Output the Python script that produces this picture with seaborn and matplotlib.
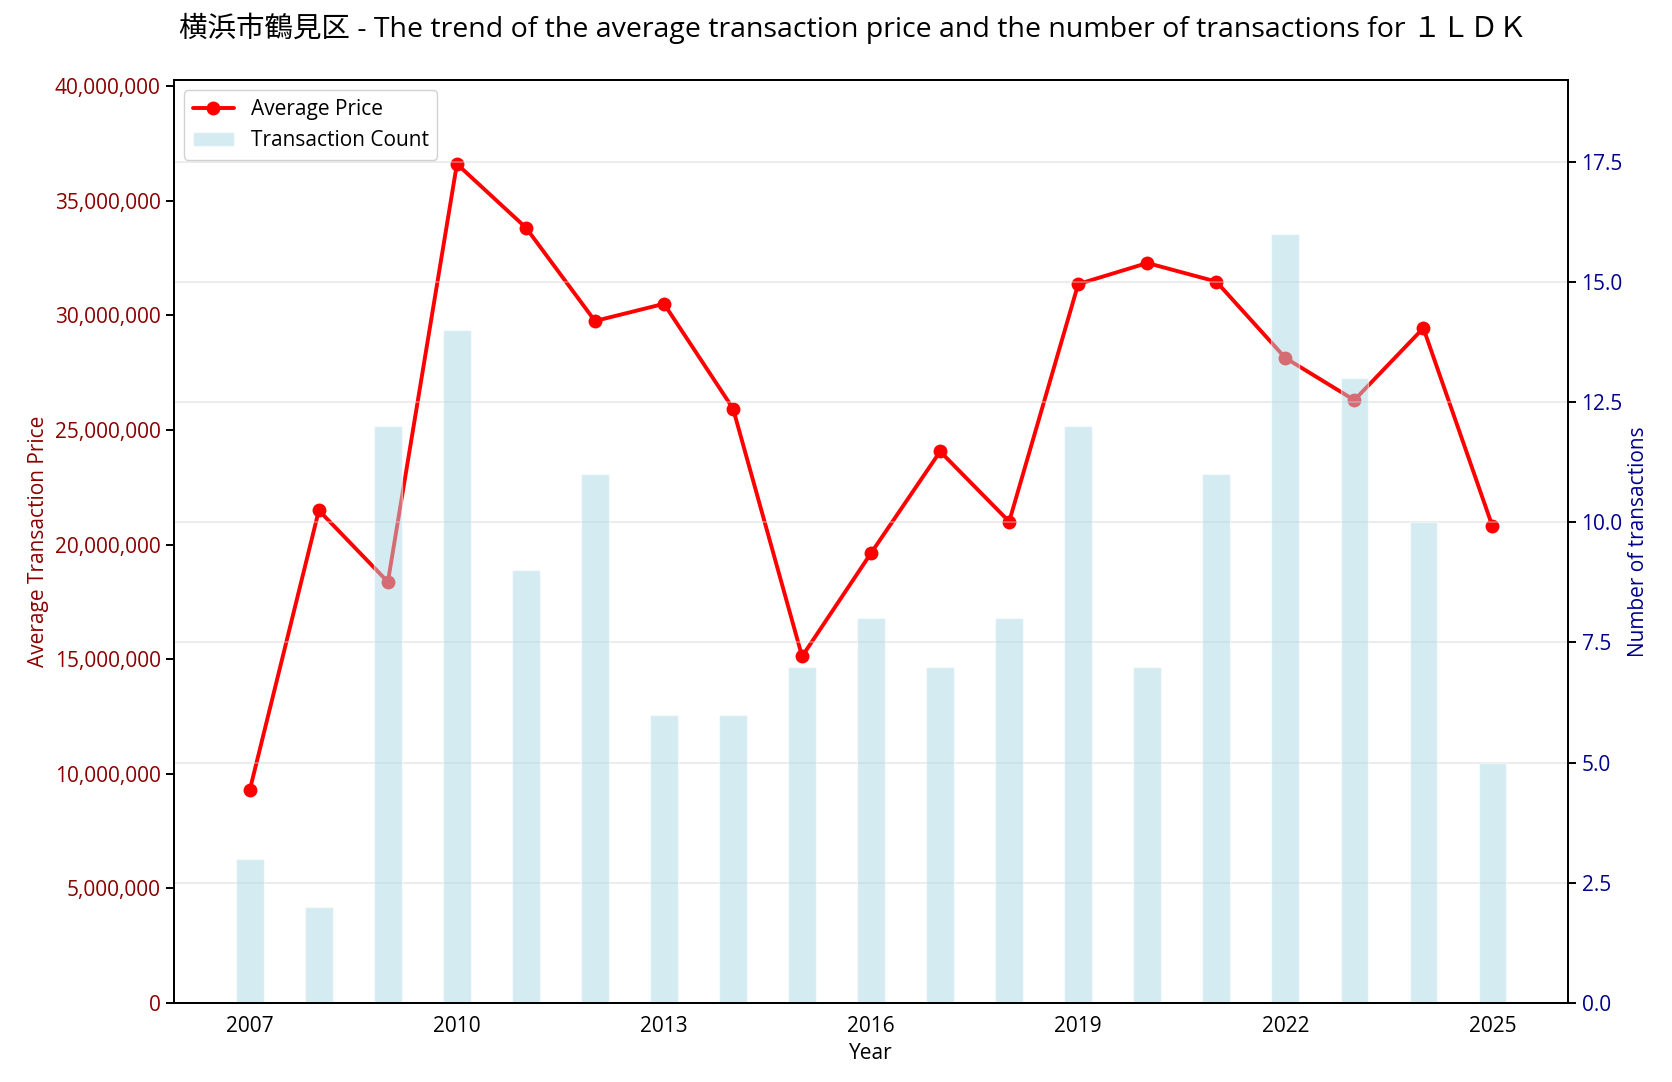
import matplotlib
matplotlib.use("Agg")
import matplotlib.pyplot as plt
import matplotlib.ticker as mticker
import seaborn as sns
import pandas as pd

years = [2007, 2008, 2009, 2010, 2011, 2012, 2013, 2014, 2015, 2016,
         2017, 2018, 2019, 2020, 2021, 2022, 2023, 2024, 2025]
avg_price = [9.30e6, 21.49e6, 18.37e6, 36.6e6, 33.82e6, 29.75e6, 30.5e6, 25.93e6,
             15.12e6, 19.63e6, 24.06e6, 21.0e6, 31.36e6, 32.28e6, 31.47e6,
             28.14e6, 26.3e6, 29.44e6, 20.8e6]
counts = [3, 2, 12, 14, 9, 11, 6, 6, 7, 8, 7, 8, 12, 7, 11, 16, 13, 10, 5]

df = pd.DataFrame({"year": years, "price": avg_price, "count": counts})

sns.set_style("white")
plt.rcParams['font.family'] = ['Open Sans', 'Noto Sans CJK JP', 'DejaVu Sans']
plt.rcParams['text.color'] = 'black'
plt.rcParams['axes.labelcolor'] = 'black'
plt.rcParams['xtick.color'] = 'black'
plt.rcParams['ytick.color'] = 'black'

fig = plt.figure(figsize=(16.72, 10.82), dpi=100)
ax1 = fig.add_axes([0.104, 0.073, 0.834, 0.853])
ax2 = ax1.twinx()

sns.lineplot(data=df, x="year", y="price", ax=ax1, color="red", linewidth=2.8,
             marker="o", markersize=10, markeredgewidth=0, label="Average Price",
             legend=False)
sns.barplot(data=df, x="year", y="count", ax=ax2, native_scale=True, width=0.4,
            color="lightblue", alpha=0.5, label="Transaction Count",
            saturation=1, legend=False)

ax1.set_ylim(0, max(avg_price) * 1.1)
ax2.set_ylim(0, max(counts) * 1.2)
ax1.set_xlim(2005.9, 2026.1)
ax1.set_xticks(list(range(2007, 2026, 3)))

ax1.yaxis.set_major_formatter(mticker.FuncFormatter(lambda v, p: f"{int(v):,}"))
ax1.tick_params(axis='y', labelcolor='darkred', color='black', labelsize=15, length=6, width=1.4)
ax1.tick_params(axis='x', labelcolor='black', color='black', labelsize=15, length=6, width=1.4)
ax2.tick_params(axis='y', labelcolor='darkblue', color='black', labelsize=15, length=6, width=1.4)
for ax in (ax1, ax2):
    for s in ax.spines.values():
        s.set_color("black")
        s.set_linewidth(1.4)

ax2.grid(True, axis='y', color='lightgray', alpha=0.5, linewidth=1.2)
ax1.grid(False)

ax1.set_xlabel("Year", fontsize=15, color="black")
ax1.set_ylabel("Average Transaction Price", color="darkred", fontsize=15)
ax2.set_ylabel("Number of transactions", color="darkblue", fontsize=15)

fig.text(0.51, 0.9734,
         "横浜市鶴見区 - The trend of the average transaction price and the number of transactions for １ＬＤＫ",
         fontsize=20.5, ha="center", va="center", color="black")

h1, l1 = ax1.get_legend_handles_labels()
h2, l2 = ax2.get_legend_handles_labels()
leg = ax2.legend(h1 + h2, l1 + l2, loc="upper left", fontsize=15, framealpha=0.9)
for t in leg.get_texts():
    t.set_color("black")

fig.savefig("out.png", dpi=100)
